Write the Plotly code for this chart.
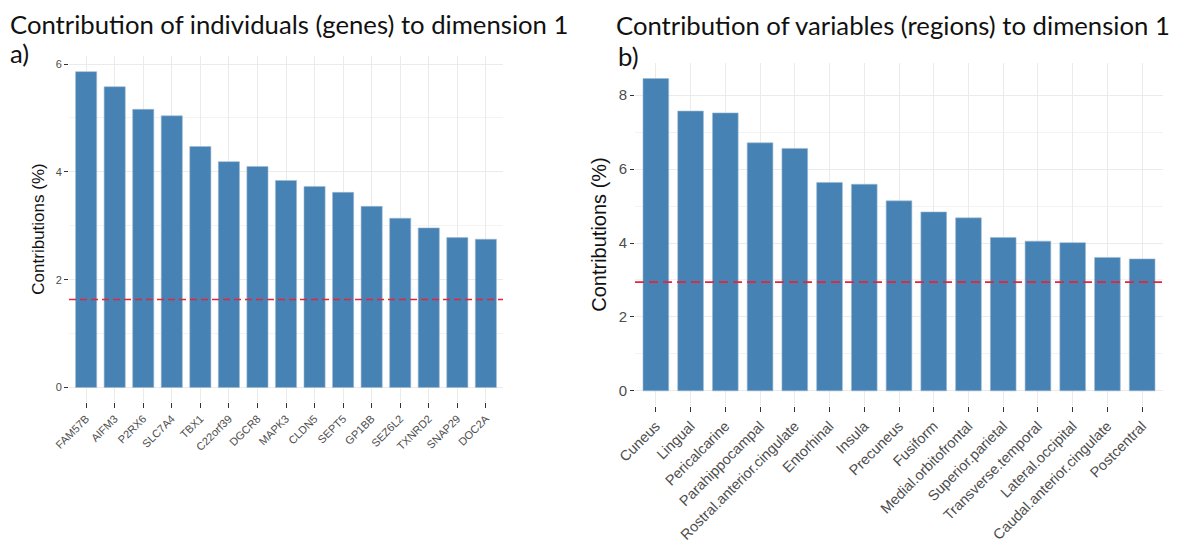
import plotly.graph_objects as go

genes = ["FAM57B", "AIFM3", "P2RX6", "SLC7A4", "TBX1", "C22orf39", "DGCR8", "MAPK3",
         "CLDN5", "SEPT5", "GP1BB", "SEZ6L2", "TXNRD2", "SNAP29", "DOC2A"]
gene_contrib = [5.86, 5.58, 5.16, 5.04, 4.47, 4.19, 4.10, 3.84,
                3.73, 3.62, 3.36, 3.14, 2.96, 2.78, 2.75]
gene_ref = 1.63

regions = ["Cuneus", "Lingual", "Pericalcarine", "Parahippocampal", "Rostral.anterior.cingulate",
           "Entorhinal", "Insula", "Precuneus", "Fusiform", "Medial.orbitofrontal",
           "Superior.parietal", "Transverse.temporal", "Lateral.occipital",
           "Caudal.anterior.cingulate", "Postcentral"]
region_contrib = [8.45, 7.57, 7.52, 6.71, 6.56, 5.64, 5.59, 5.14, 4.84, 4.68,
                  4.15, 4.05, 4.01, 3.61, 3.57]
region_ref = 2.94

W, H = 1180, 554
BAR = "#4682B4"
GRID = "#EBEBEB"

fig = go.Figure()
fig.add_trace(go.Bar(x=genes, y=gene_contrib, marker=dict(color=BAR, line=dict(color="#9DBAD3", width=0.6)),
                     xaxis="x", yaxis="y", width=0.74, showlegend=False))
fig.add_trace(go.Bar(x=regions, y=region_contrib, marker=dict(color=BAR, line=dict(color="#9DBAD3", width=0.6)),
                     xaxis="x2", yaxis="y2", width=0.74, showlegend=False))

# reference lines
fig.add_shape(type="line", xref="x domain", yref="y", x0=0.0, x1=1.0, y0=gene_ref, y1=gene_ref,
              line=dict(color="#E3263A", width=1.5, dash="7px,4px"))
fig.add_shape(type="line", xref="x2 domain", yref="y2", x0=0.0, x1=1.0, y0=region_ref, y1=region_ref,
              line=dict(color="#E3263A", width=1.7, dash="9px,5px"))

def px_x(p):
    return p / W

def px_y(p):
    return 1 - p / H

tickfont_a = dict(family="Liberation Sans, Arial", size=11, color="#4D4D4D")
tickfont_ay = dict(family="Liberation Sans, Arial", size=11, color="#4D4D4D")
tickfont_b = dict(family="Liberation Sans, Arial", size=14.5, color="#4D4D4D")
tickfont_by = dict(family="Liberation Sans, Arial", size=15, color="#4D4D4D")

common_x = dict(type="category", showgrid=True, gridcolor=GRID, gridwidth=1, zeroline=False,
                showline=False, ticks="outside", ticklen=5, tickcolor="#333333", tickwidth=1.2,
                tickangle=-45, automargin=False)
common_y = dict(showgrid=True, gridcolor=GRID, gridwidth=1, zeroline=False, showline=False,
                ticks="outside", ticklen=4, tickcolor="#333333", tickwidth=1.2, dtick=2,
                automargin=False,
                minor=dict(dtick=1, showgrid=True, gridcolor="#F3F3F3", gridwidth=0.6, ticks=""))

fig.update_layout(
    width=W, height=H,
    margin=dict(l=0, r=0, t=0, b=0, autoexpand=False),
    paper_bgcolor="white", plot_bgcolor="white",
    bargap=0.2,
    xaxis=dict(common_x, domain=[px_x(69), px_x(503)], anchor="y", range=[-0.6, 14.6],
               tickfont=tickfont_a),
    yaxis=dict(common_y, domain=[px_y(402), px_y(56)], anchor="x", range=[-0.27, 6.15],
               tickfont=tickfont_ay,
               title=dict(text="Contributions (%)", standoff=6,
                          font=dict(family="Liberation Sans, Arial", size=17, color="#111111"))),
    xaxis2=dict(common_x, domain=[px_x(635), px_x(1163)], anchor="y2", range=[-0.6, 14.6],
                tickfont=tickfont_b),
    yaxis2=dict(common_y, domain=[px_y(406), px_y(63)], anchor="x2", range=[-0.41, 8.87],
                tickfont=tickfont_by,
                title=dict(text="Contributions (%)", standoff=6,
                           font=dict(family="Liberation Sans, Arial", size=20, color="#111111"))),
)

title_font = dict(family="Lato, Noto Sans", size=25.7, color="#111111")
fig.add_annotation(text="Contribution of individuals (genes) to dimension 1", x=px_x(8), y=px_y(24),
                   xref="paper", yref="paper", xanchor="left", yanchor="middle", showarrow=False,
                   font=title_font)
fig.add_annotation(text="a)", x=px_x(8), y=px_y(53), xref="paper", yref="paper",
                   xanchor="left", yanchor="middle", showarrow=False, font=title_font)
fig.add_annotation(text="Contribution of variables (regions) to dimension 1", x=px_x(614), y=px_y(25),
                   xref="paper", yref="paper", xanchor="left", yanchor="middle", showarrow=False,
                   font=title_font)
fig.add_annotation(text="b)", x=px_x(616), y=px_y(56), xref="paper", yref="paper",
                   xanchor="left", yanchor="middle", showarrow=False, font=title_font)

fig.write_html("out.html", config={"displayModeBar": False},
               post_script="document.body.style.margin='0px';")
